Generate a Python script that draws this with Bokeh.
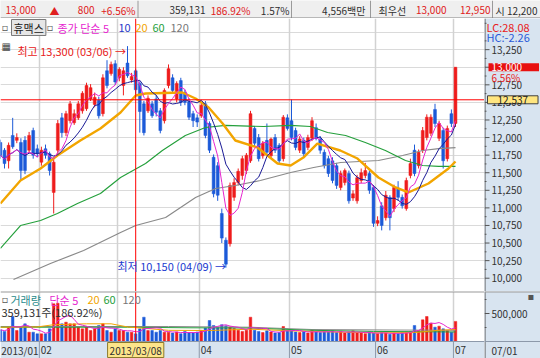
import pandas as pd
from bokeh.plotting import figure
from bokeh.models import (ColumnDataSource, Range1d, FixedTicker, Label, Span, Grid)
from bokeh.layouts import column, row
from bokeh.embed import file_html
from bokeh.resources import INLINE
from bokeh.core.properties import value

FONT = "Noto Sans CJK KR"
SYM = "DejaVu Sans"

# ---------------- data ----------------
day_index = list(range(-1, 111))
opens = [11930, 11820, 11670, 12030, 11960, 11930, 11960, 11820, 12100, 11840,
         11650, 11840, 11770, 11220, 11820, 12280, 12070, 12240, 12210, 12280,
         12380, 12410, 12550, 12470, 12530, 12340, 12950, 12910, 13050, 12850,
         12740, 13060, 12820, 12950, 12770, 12480, 12380, 12480, 12550, 12380,
         12240, 12740, 12850, 12550, 12810, 12640, 12510, 12340, 12280, 12310,
         12480, 12200, 11720, 11600, 10920, 10540, 10490, 11150, 11360, 11460,
         11530, 11670, 12130, 12000, 11740, 11960, 11740, 12000, 11890, 11700,
         12280, 12240, 12100, 11820, 11960, 11860, 11990, 12140, 11980, 11790,
         11700, 11670, 11600, 11290, 11360, 11490, 11140, 11100, 11390, 11460,
         11490, 11290, 10780, 11030, 10860, 11150, 10990, 11280, 11150, 10990,
         11460, 11820, 11600, 11820, 12000, 12060, 12400, 11990, 12100, 11700,
         12340, 12200]
closes = [11750, 11630, 11890, 11870, 12000, 11530, 11530, 12030, 11750, 11770,
          11820, 11750, 11530, 11650, 12200, 12070, 12340, 12480, 12340, 12480,
          12630, 12740, 12710, 12570, 12310, 12850, 12740, 13040, 12790, 12970,
          12950, 12880, 12870, 12680, 12370, 12070, 12560, 12310, 12360, 12100,
          12670, 12980, 12670, 12770, 12500, 12500, 12290, 12240, 12220, 12460,
          12030, 11820, 11200, 11180, 10570, 10200, 11320, 11360, 11520, 11700,
          11750, 12340, 11920, 11700, 11920, 11790, 11980, 11820, 11670, 12290,
          12130, 12000, 11860, 11980, 11770, 12000, 12240, 12000, 11820, 11600,
          11490, 11390, 11320, 11490, 11530, 11100, 11200, 11430, 11500, 11530,
          11250, 10780, 10820, 10750, 11180, 10860, 11290, 11150, 11030, 11390,
          11630, 11490, 11790, 12100, 12290, 12290, 12200, 12200, 11670, 12130,
          12200, 13000]
highs = [11970, 11850, 11930, 12280, 12060, 11990, 12020, 12080, 12140, 11900,
         11870, 11900, 11800, 11700, 12250, 12350, 12380, 12520, 12400, 12520,
         12660, 12780, 12760, 12640, 12580, 12900, 13100, 13080, 13100, 13000,
         13000, 13300, 12920, 12980, 12800, 12520, 12600, 12520, 12600, 12420,
         12700, 13040, 12900, 12800, 12850, 12680, 12560, 12380, 12330, 12500,
         12520, 12230, 11760, 11650, 10990, 10580, 11360, 11420, 11560, 11740,
         11780, 12380, 12160, 12050, 11950, 12200, 12000, 12050, 11920, 12320,
         12330, 12540, 12140, 12020, 12000, 12040, 12290, 12200, 12020, 11830,
         11740, 11720, 11640, 11530, 11560, 11530, 11250, 11470, 11560, 11640,
         11530, 11320, 10880, 11080, 11240, 11180, 11330, 11380, 11190, 11430,
         11700, 11900, 11830, 12150, 12330, 12330, 12480, 12240, 12140, 12170,
         12400, 13000]
lows = [11700, 11560, 11560, 11840, 11920, 11390, 11480, 11780, 11700, 11720,
        11600, 11700, 11460, 10920, 11760, 12000, 12020, 12200, 12180, 12250,
        12340, 12380, 12520, 12430, 12270, 12300, 12700, 12880, 12750, 12800,
        12600, 12850, 12780, 12620, 12070, 12030, 12350, 12280, 12300, 12060,
        12200, 12700, 12620, 12500, 12450, 12460, 12250, 12150, 12150, 12280,
        11990, 11780, 11150, 11100, 10500, 10150, 10450, 11100, 11320, 11400,
        11480, 11640, 11880, 11660, 11700, 11750, 11700, 11780, 11640, 11660,
        12100, 11960, 11820, 11780, 11730, 11820, 11950, 11960, 11770, 11560,
        11440, 11350, 11270, 11250, 11320, 11060, 11100, 11060, 11350, 11420,
        11200, 10730, 10740, 10680, 10820, 10680, 10940, 11100, 10990, 10960,
        11420, 11450, 11560, 11780, 11960, 12020, 12150, 11950, 11560, 11660,
        12150, 12150]
volumes_k = [208, 180, 256, 446, 196, 256, 315, 167, 167, 137,
             137, 137, 226, 673, 683, 315, 345, 315, 315, 256,
             226, 256, 196, 226, 286, 315, 196, 167, 226, 196,
             196, 167, 167, 137, 226, 434, 196, 196, 167, 196,
             167, 167, 150, 170, 140, 180, 160, 150, 170, 200,
             240, 375, 286, 250, 300, 280, 260, 230, 200, 180,
             200, 434, 200, 180, 160, 190, 170, 150, 160, 268,
             200, 190, 170, 160, 180, 150, 200, 170, 160, 180,
             170, 190, 160, 180, 150, 170, 190, 160, 150, 140,
             170, 150, 140, 160, 150, 130, 150, 140, 160, 170,
             170, 286, 196, 387, 446, 327, 256, 274, 226, 196,
             167, 359]
volumes = [v * 1000 for v in volumes_k]

# longer moving averages
ma20_idx = [-1, 3.9, 8.8, 12.9, 18.5, 23.4, 28.3, 32, 34.4, 43.4, 46.6, 49.8, 53.2, 56.3,
            61.7, 66.6, 69.8, 72.9, 76.3, 81.9, 86.1, 91.2, 95.4, 98.5, 103.4, 108.3, 110]
ma20_val = [11062, 11389, 11560, 11745, 11958, 12129, 12356, 12598, 12627, 12641, 12555,
            12427, 12200, 11958, 11859, 11631, 11603, 11716, 11915, 11816, 11702, 11432,
            11290, 11219, 11347, 11560, 11660]
ma60_idx = [-1, 3.9, 8.8, 12.9, 17.8, 23.4, 28.3, 34.4, 38.5, 44.1, 49, 53.9, 63.2, 69.8,
            74.6, 78.8, 83.2, 88, 92.9, 97.8, 102, 105.9, 110]
ma60_val = [10423, 10749, 10820, 10920, 11062, 11205, 11432, 11631, 11816, 12029, 12143,
            12172, 12157, 12172, 12157, 12072, 12029, 11930, 11816, 11674, 11603, 11589, 11589]
ma120_idx = [2.2, 11.2, 19.3, 28.3, 32, 39.3, 46.6, 51.5, 56.3, 62.4, 69.8, 75.4, 82,
             91.2, 97.1, 102, 105.9, 110]
ma120_val = [9982, 10209, 10394, 10650, 10749, 10863, 11148, 11276, 11318, 11389, 11503,
             11574, 11645, 11674, 11745, 11816, 11844, 11858]

vma20_idx = [-1, 8, 12, 20, 26, 30, 40, 50, 60, 70, 80, 90, 100, 106, 110]
vma20_val = [255000, 260000, 300000, 316000, 316000, 260000, 200000, 196000, 220000,
             190000, 170000, 155000, 160000, 200000, 215000]
vma60_idx = [-1, 30, 45, 60, 75, 90, 110]
vma60_val = [255000, 255000, 245000, 240000, 200000, 180000, 170000]
vma120_idx = [-1, 40, 60, 75, 95, 110]
vma120_val = [268000, 268000, 255000, 214000, 205000, 200000]

month_first = [9, 28, 48, 70, 91, 110]
month_labels = ["02", "03", "04", "05", "06", "07"]
first_label = "2013/01"
next_label = "07/01"
selected_index = 32
selected_label = "2013/03/08"
crosshair_price = 12537
last_close = 13000
price_ticks = list(range(10000, 13251, 250))
price_minor = list(range(10125, 13626, 250))
volume_ticks = [500000]
volume_minor = [250000, 750000]

# ---------------- derived ----------------
RED = "#ee1c1c"
BLUE = "#1c5ad8"
MAG = "#e626cf"
NAVY = "#1a1a96"
ORANGE = "#f2a500"
GREEN = "#25a03c"
GRAY = "#8a8a8a"
AXBG = "#d8e4f0"
SEP = "#8d99aa"
AXC = "#555555"

colors = [RED if c >= o else BLUE for o, c in zip(opens, closes)]
src = ColumnDataSource(dict(
    x=day_index, h=highs, l=lows,
    top=[max(o, c) for o, c in zip(opens, closes)],
    bottom=[min(o, c) for o, c in zip(opens, closes)],
    color=colors, vol=volumes,
    ma5=pd.Series(closes).rolling(5, min_periods=1).mean(),
    ma10=pd.Series(closes).rolling(10, min_periods=1).mean(),
    vma5=pd.Series(volumes).rolling(5, min_periods=1).mean(),
))

STEP = 4.1
FRAME_W = 484
AX_W = 56
x_lo = -4.0 / STEP
x_hi = x_lo + FRAME_W / STEP
bounds = [m - 0.5 for m in month_first]


def lbl(fig, x, y, text, color, size="11px", font=FONT, **kw):
    fig.add_layout(Label(x=x, y=y, x_units="screen", y_units="screen", text=text,
                         text_color=color, text_font=font, text_font_size=size,
                         text_baseline="middle", **kw))


def bare(width, height, x_range, y_range, bg):
    f = figure(width=width, height=height, x_range=x_range, y_range=y_range,
               toolbar_location=None, output_backend="svg", min_border=0,
               x_axis_location=None, y_axis_location=None)
    f.grid.visible = False
    f.outline_line_color = None
    f.background_fill_color = bg
    f.border_fill_color = bg
    return f


def side_axis(f, ticks, minor, labels):
    """Right-hand value scale drawn on the shared y range of the panel."""
    f.add_layout(Span(location=0.5, dimension="height", line_color=AXC, line_width=1))
    f.segment(x0=[0] * len(ticks), x1=[5] * len(ticks), y0=ticks, y1=ticks,
              line_color=AXC, line_width=1)
    f.segment(x0=[0] * len(minor), x1=[2] * len(minor), y0=minor, y1=minor,
              line_color=AXC, line_width=1)
    f.text(x=[7] * len(ticks), y=ticks, text=labels, text_font=value(FONT),
           text_font_size="10px", text_color="#333333", text_baseline="middle",
           text_align="left")


# ---------------- header ----------------
hdr = bare(540, 18, Range1d(0, 540), Range1d(18, 0), "#efefef")
HF = "10px"
hdr.text(x=[5, 49, 378, 495], y=[9.5] * 4, text=["13,000", "▲", "최우선", "시 12,200"],
         text_color=["#e02020", "#e02020", "#303030", "#303030"],
         text_font=value(FONT), text_font_size=HF, text_baseline="middle", text_align="left")
hdr.text(x=[94, 135, 205, 250, 289, 365, 446, 490], y=[9.5] * 8,
         text=["800", "+6.56%", "359,131", "186.92%", "1.57%", "4,556백만", "13,000", "12,950"],
         text_color=["#e02020", "#e02020", "#303030", "#e02020", "#303030", "#303030",
                     "#e02020", "#e02020"],
         text_font=value(FONT), text_font_size=HF, text_baseline="middle", text_align="right")
hdr.segment(x0=[137.5, 291, 370, 492], y0=[0] * 4, x1=[137.5, 291, 370, 492], y1=[18] * 4,
            line_color="#9a9a9a", line_width=1)
hdr.segment(x0=[0], y0=[17.5], x1=[540], y1=[17.5], line_color="#808080", line_width=1)

# ---------------- price panel ----------------
price = bare(FRAME_W, 273, Range1d(x_lo, x_hi), Range1d(9811, 13693), "white")
price.add_layout(Grid(dimension=1, ticker=FixedTicker(ticks=list(range(10000, 13751, 250))),
                      grid_line_color="#dadada", grid_line_width=1))
price.add_layout(Grid(dimension=0, ticker=FixedTicker(ticks=bounds), grid_line_color="#d2d2d2",
                      grid_line_width=1.5))
price.segment(x0="x", y0="h", x1="x", y1="l", line_color="color", line_width=1, source=src)
price.vbar(x="x", width=0.7, top="top", bottom="bottom", fill_color="color",
           line_color="color", line_width=0.5, source=src)
price.line(ma120_idx, ma120_val, line_color=GRAY, line_width=1.2)
price.line(ma60_idx, ma60_val, line_color=GREEN, line_width=1.2)
price.line(ma20_idx, ma20_val, line_color=ORANGE, line_width=2.4)
price.line("x", "ma10", source=src, line_color=NAVY, line_width=1)
price.line("x", "ma5", source=src, line_color=MAG, line_width=1)
price.add_layout(Span(location=crosshair_price, dimension="width", line_color="#ff0000", line_width=1))
price.add_layout(Span(location=selected_index, dimension="height", line_color="#ff0000", line_width=1))

PB = 291  # canvas y of the price-panel bottom
lbl(price, 1, PB - 27, "▫", "#555555", size="10px", font=SYM)
lbl(price, 11, PB - 27, "휴맥스", "#202020", background_fill_color="#e6e6e6",
    border_line_color="#7a7a7a", padding=dict(left=2, right=2, top=0, bottom=0))
lbl(price, 46, PB - 27, "▫", "#555555", size="10px", font=SYM)
lbl(price, 57, PB - 27, "종가 단순 5", MAG)
lbl(price, 118, PB - 27, "10", "#2838c8")
lbl(price, 135, PB - 27, "20", ORANGE)
lbl(price, 152, PB - 27, "60", GREEN)
lbl(price, 170, PB - 27, "120", "#777777")
lbl(price, 1, PB - 46, "▦", "#404040", size="10px", font=SYM)
lbl(price, 17, PB - 50, "최고 13,300 (03/06) →", "#e82020")
lbl(price, 117, PB - 265, "최저 10,150 (04/09) →", "#1a3ad0")

# price scale strip (shares the price y range)
pside = bare(AX_W, 273, Range1d(0, AX_W), price.y_range, AXBG)
side_axis(pside, price_ticks, price_minor, [f"{t:,}" for t in price_ticks])
lbl(pside, 2, PB - 26, "LC:28.08", "#e82020")
lbl(pside, 2, PB - 36, "HC:-2.26", "#2a5ad8")
pside.add_layout(Label(x=4, x_units="screen", y=last_close, y_units="data", text="13,000",
                       text_color="white", text_font=FONT, text_font_size="10px",
                       text_baseline="middle", background_fill_color="#e81010",
                       padding=dict(left=3, right=17, top=0, bottom=0)))
lbl(pside, 7, PB - 77, "6.56%", "#e82020", size="10px")
pside.add_layout(Label(x=3, x_units="screen", y=crosshair_price, y_units="data", text="12,537",
                       text_color="#202020", text_font=FONT, text_font_size="10px",
                       text_baseline="middle", background_fill_color="#ffe680",
                       border_line_color="#404040",
                       padding=dict(left=10, right=10, top=0, bottom=0)))

# ---------------- volume panel + date row ----------------
VTOP = 893000
VPX = VTOP / 50.0            # volume per pixel (volume part of the panel is 50 px high)
VBOT = -17 * VPX             # the 17 px date row sits below the zero line
vol = bare(FRAME_W, 67, price.x_range, Range1d(VBOT, VTOP), "white")
vol.add_layout(Grid(dimension=0, ticker=FixedTicker(ticks=bounds), grid_line_color="#d2d2d2",
                    grid_line_width=1.5))
vol.vbar(x="x", width=0.62, top="vol", bottom=0, fill_color="color", line_color="color",
         line_width=0.5, source=src)
vol.line(vma120_idx, vma120_val, line_color=GRAY, line_width=1)
vol.line(vma60_idx, vma60_val, line_color=GREEN, line_width=1)
vol.line(vma20_idx, vma20_val, line_color=ORANGE, line_width=1)
vol.line("x", "vma5", source=src, line_color=MAG, line_width=1)
vol.add_layout(Span(location=selected_index, dimension="height", line_color="#ff0000", line_width=1))
vol.add_layout(Span(location=VTOP, dimension="width", line_color="#9a9a9a", line_width=2))

# date row
vol.quad(left=[x_lo], right=[x_hi], bottom=[VBOT], top=[0], fill_color=AXBG, line_color=None)
vol.segment(x0=bounds, y0=[VBOT] * len(bounds), x1=bounds, y1=[0] * len(bounds),
            line_color=SEP, line_width=1)
vol.add_layout(Span(location=0, dimension="width", line_color=SEP, line_width=1))
vol.text(x=[x_lo + 0.2] + [b + 0.35 for b in bounds], y=[-8.5 * VPX] * (len(bounds) + 1),
         text=[first_label] + month_labels,
         text_font=value(FONT), text_font_size="10px", text_color="#333333",
         text_baseline="middle", text_align="left")
vol.add_layout(Label(x=selected_index, y=-8.5 * VPX, text=selected_label, text_align="center",
                     text_baseline="middle", text_font=FONT, text_font_size="10px",
                     text_color="#303030", background_fill_color="#fde58a",
                     border_line_color="#8c7a2a", padding=dict(left=2, right=2, top=0, bottom=0)))

VB = 358  # canvas y of the volume-panel bottom
lbl(vol, 1, VB - 299, "▫", "#555555", size="10px", font=SYM)
lbl(vol, 10, VB - 299, "거래량", "#2a8c8c")
lbl(vol, 49, VB - 299, "단순 5", MAG)
lbl(vol, 87, VB - 299, "20", ORANGE)
lbl(vol, 103, VB - 299, "60", GREEN)
lbl(vol, 122, VB - 299, "120", "#777777")
lbl(vol, 1, VB - 311, "359,131주(186.92%)", "#303030")

# volume scale strip (shares the volume y range)
vside = bare(AX_W, 67, Range1d(0, AX_W), vol.y_range, AXBG)
side_axis(vside, volume_ticks, volume_minor, [f"{t:,}" for t in volume_ticks])
vside.add_layout(Span(location=0, dimension="width", line_color=SEP, line_width=1))
vside.add_layout(Span(location=VTOP, dimension="width", line_color="#9a9a9a", line_width=2))
lbl(vside, 7, 8.5, next_label, "#333333", size="10px")
lbl(vside, 43, VB - 296, "▪", "#555555", size="10px", font=SYM)

layout = column(hdr, row(price, pside, spacing=0), row(vol, vside, spacing=0), spacing=0)
open("out.html", "w").write(file_html(layout, INLINE))
